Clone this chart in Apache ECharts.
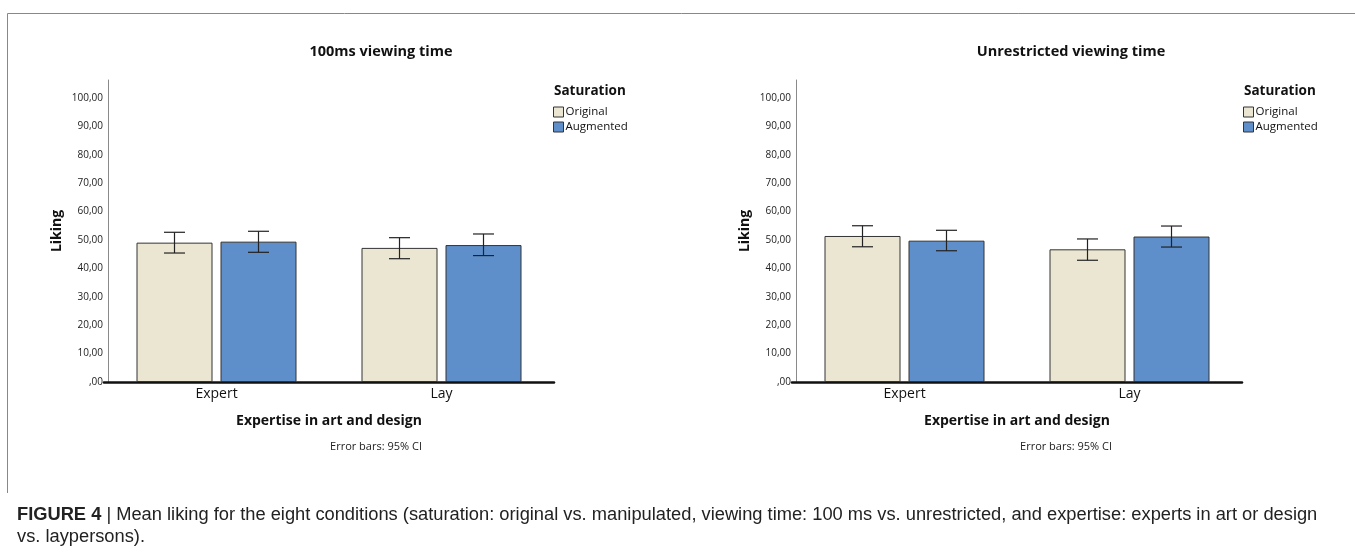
<!DOCTYPE html>
<html>
<head>
<meta charset="utf-8">
<script src="https://cdn.jsdelivr.net/npm/echarts@6/dist/echarts.min.js"></script>
<style>
html,body{margin:0;padding:0;background:#fff;}
#chart{width:1355px;height:552px;}
</style>
</head>
<body>
<div id="chart"></div>
<script>
// ---- data ----
const categories = ['Expert', 'Lay'];
const seriesNames = ['Original', 'Augmented'];
const panelTitles = ['100ms viewing time', 'Unrestricted viewing time'];
// 100 ms viewing time
const shortOriginal = [49.05, 47.2];
const shortAugmented = [49.4, 48.2];
const shortOriginalCI = [[45.4, 52.7], [43.4, 50.8]];
const shortAugmentedCI = [[45.65, 53.05], [44.5, 52.1]];
// unrestricted viewing time
const unrOriginal = [51.4, 46.7];
const unrAugmented = [49.75, 51.2];
const unrOriginalCI = [[47.6, 55.0], [42.85, 50.35]];
const unrAugmentedCI = [[46.2, 53.4], [47.5, 54.9]];
const yTickValues = [0, 10, 20, 30, 40, 50, 60, 70, 80, 90, 100];

// ---- style ----
const FONT = "'Open Sans', 'Noto Sans', 'DejaVu Sans', sans-serif";
const C_ORIG = '#EBE6D2';
const C_AUG = '#5E8FCB';
const BAR_W = 76, BAR_GAP = 8;
const OFF = (BAR_W + BAR_GAP) / 2;

const chart = echarts.init(document.getElementById('chart'));

function errRender(offset) {
  return function (params, api) {
    const i = api.value(0);
    const lo = api.coord([i, api.value(1)]);
    const hi = api.coord([i, api.value(2)]);
    const cx = lo[0] + offset;
    const h = 10.5;
    const st = { stroke: '#222', lineWidth: 1.2 };
    return {
      type: 'group',
      children: [
        { type: 'line', shape: { x1: cx, y1: hi[1], x2: cx, y2: lo[1] }, style: st },
        { type: 'line', shape: { x1: cx - h, y1: hi[1], x2: cx + h, y2: hi[1] }, style: st },
        { type: 'line', shape: { x1: cx - h, y1: lo[1], x2: cx + h, y2: lo[1] }, style: st }
      ]
    };
  };
}
function ciData(ci) { return categories.map((c, i) => [i, ci[i][0], ci[i][1]]); }

const gridLefts = [104, 792];
const titleCenters = [376, 1066];
const legendLefts = [553, 1243];
const panels = [
  { orig: shortOriginal, aug: shortAugmented, oci: shortOriginalCI, aci: shortAugmentedCI },
  { orig: unrOriginal, aug: unrAugmented, oci: unrOriginalCI, aci: unrAugmentedCI }
];

const grids = [], xAxes = [], yAxes = [], series = [], titles = [], legends = [], graphics = [];
panels.forEach((p, k) => {
  grids.push({ left: gridLefts[k], top: 80, width: 450, height: 302 });
  titles.push({
    text: panelTitles[k], left: titleCenters[k], top: 39, textAlign: 'center',
    textStyle: { fontFamily: FONT, fontSize: 14.5, fontWeight: 'bold', color: '#111' }
  });
  xAxes.push({
    type: 'category', gridIndex: k, data: categories,
    axisLine: { lineStyle: { color: '#111', width: 2.5 } },
    axisTick: { show: false },
    axisLabel: { fontFamily: FONT, fontSize: 14, color: '#111', margin: 5 },
    name: 'Expertise in art and design', nameLocation: 'middle', nameGap: 32,
    nameTextStyle: { fontFamily: FONT, fontSize: 14, fontWeight: 'bold', color: '#111' }
  });
  yAxes.push({
    type: 'value', gridIndex: k, min: 0, max: 106.3, interval: 10, offset: -4,
    axisLine: { show: true, lineStyle: { color: '#8a8a8a', width: 1 } },
    axisTick: { show: false },
    splitLine: { show: false },
    axisLabel: {
      fontFamily: FONT, fontSize: 10, color: '#222', margin: 5, showMaxLabel: false,
      formatter: v => yTickValues.indexOf(v) < 0 ? '' : (v === 0 ? ',00' : v + ',00')
    },
    name: 'Liking', nameLocation: 'middle', nameGap: 44,
    nameTextStyle: { fontFamily: FONT, fontSize: 14, fontWeight: 'bold', color: '#111' }
  });
  series.push({
    name: seriesNames[0], type: 'bar', xAxisIndex: k, yAxisIndex: k, data: p.orig,
    barWidth: BAR_W, barGap: (BAR_GAP / BAR_W * 100) + '%',
    itemStyle: { color: C_ORIG, borderColor: '#333', borderWidth: 1 }
  });
  series.push({
    name: seriesNames[1], type: 'bar', xAxisIndex: k, yAxisIndex: k, data: p.aug,
    barWidth: BAR_W, barGap: (BAR_GAP / BAR_W * 100) + '%',
    itemStyle: { color: C_AUG, borderColor: '#333', borderWidth: 1 }
  });
  series.push({
    type: 'custom', xAxisIndex: k, yAxisIndex: k, renderItem: errRender(-OFF),
    data: ciData(p.oci), encode: { x: 0, y: [1, 2] }, z: 5, silent: true
  });
  series.push({
    type: 'custom', xAxisIndex: k, yAxisIndex: k, renderItem: errRender(OFF),
    data: ciData(p.aci), encode: { x: 0, y: [1, 2] }, z: 5, silent: true
  });
  legends.push({
    data: seriesNames, orient: 'vertical', left: legendLefts[k], top: 106,
    itemWidth: 10, itemHeight: 10, itemGap: 3, padding: 0, icon: 'rect',
    itemStyle: { borderColor: '#333', borderWidth: 1 },
    textStyle: { fontFamily: FONT, fontSize: 11.5, color: '#111', padding: [0, 0, 0, -3] }
  });
  graphics.push({
    type: 'text', left: legendLefts[k] + 1, top: 84,
    style: { text: 'Saturation', font: 'bold 13.5px ' + FONT, fill: '#111' }
  });
  graphics.push({
    type: 'text', x: titleCenters[k], y: 447,
    style: { text: 'Error bars: 95% CI', font: '11px ' + FONT, fill: '#222', textAlign: 'center', textVerticalAlign: 'middle' }
  });
});

// frame and caption
graphics.push({ type: 'line', shape: { x1: 7.5, y1: 13.5, x2: 1355, y2: 13.5 }, style: { stroke: '#888', lineWidth: 1 } });
graphics.push({ type: 'line', shape: { x1: 7.5, y1: 13.5, x2: 7.5, y2: 493 }, style: { stroke: '#888', lineWidth: 1 } });
const CAP_FONT = "'Liberation Sans', Arial, sans-serif";
const CAP_SIZE = 18.3;
graphics.push({
  type: 'text', x: 17, y: 515,
  style: {
    text: '{b|FIGURE 4} {s||} Mean liking for the eight conditions (saturation: original vs. manipulated, viewing time: 100 ms vs. unrestricted, and expertise: experts in art or design',
    textVerticalAlign: 'middle', font: CAP_SIZE + 'px ' + CAP_FONT, fill: '#222',
    rich: {
      b: { fontFamily: CAP_FONT, fontSize: CAP_SIZE, fontWeight: 'bold', fill: '#222' },
      s: { fontFamily: CAP_FONT, fontSize: CAP_SIZE, fill: '#222' }
    }
  }
});
graphics.push({
  type: 'text', x: 17, y: 537,
  style: { text: 'vs. laypersons).', textVerticalAlign: 'middle', font: CAP_SIZE + 'px ' + CAP_FONT, fill: '#222' }
});

chart.setOption({
  backgroundColor: '#fff',
  animation: false,
  title: titles,
  grid: grids,
  xAxis: xAxes,
  yAxis: yAxes,
  legend: legends,
  series: series,
  graphic: graphics
});
</script>
</body>
</html>
